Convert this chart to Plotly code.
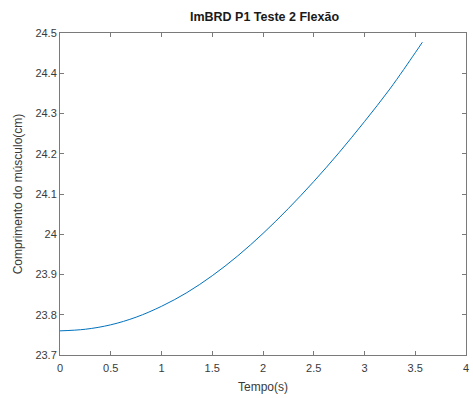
import plotly.graph_objects as go

# Muscle length over time during flexion
tempo_s = [0.0, 0.25, 0.5, 0.75, 1.0, 1.25, 1.5, 1.75, 2.0, 2.25, 2.5,
           2.75, 3.0, 3.25, 3.5, 3.57]
comprimento_cm = [23.760, 23.764, 23.775, 23.794, 23.821, 23.855, 23.897,
                  23.946, 24.002, 24.064, 24.131, 24.203, 24.280, 24.361,
                  24.451, 24.477]

x_ticks = [0, 0.5, 1, 1.5, 2, 2.5, 3, 3.5, 4]
x_tick_text = ["0", "0.5", "1", "1.5", "2", "2.5", "3", "3.5", "4"]
y_ticks = [23.7, 23.8, 23.9, 24.0, 24.1, 24.2, 24.3, 24.4, 24.5]
y_tick_text = ["23.7", "23.8", "23.9", "24", "24.1", "24.2", "24.3", "24.4", "24.5"]

font_family = "Liberation Sans, Arial, sans-serif"
axis_color = "#7a7a7a"
text_color = "#3a3a3a"

fig = go.Figure()
fig.add_trace(go.Scatter(
    x=tempo_s, y=comprimento_cm, mode="lines",
    line=dict(color="#0072BD", width=1, shape="spline", smoothing=1.0),
    hoverinfo="x+y", showlegend=False,
))

axis_common = dict(
    showgrid=False, zeroline=False, showline=True, linecolor=axis_color,
    linewidth=1, mirror="allticks", ticks="inside", ticklen=4,
    tickcolor=axis_color, tickwidth=1,
    tickfont=dict(family=font_family, size=11, color=text_color),
)

fig.update_layout(
    width=473, height=398,
    margin=dict(l=60, r=4, t=33, b=43),
    paper_bgcolor="white", plot_bgcolor="white",
    title=dict(text="<b>ImBRD P1 Teste 2 Flexão</b>",
               font=dict(family=font_family, size=12.5, color="#1a1a1a"),
               x=264.5 / 473, xanchor="center",
               y=1 - 17 / 398, yanchor="middle"),
    xaxis=dict(range=[0, 4], tickvals=x_ticks, ticktext=x_tick_text,
               ticklabelstandoff=3,
               title=dict(text="Tempo(s)", standoff=9,
                          font=dict(family=font_family, size=12, color=text_color)),
               **axis_common),
    yaxis=dict(range=[23.7, 24.5], tickvals=y_ticks, ticktext=y_tick_text,
               title=dict(text="Comprimento do músculo(cm)", standoff=10,
                          font=dict(family=font_family, size=12, color=text_color)),
               **axis_common),
)

fig.write_html("out.html")
